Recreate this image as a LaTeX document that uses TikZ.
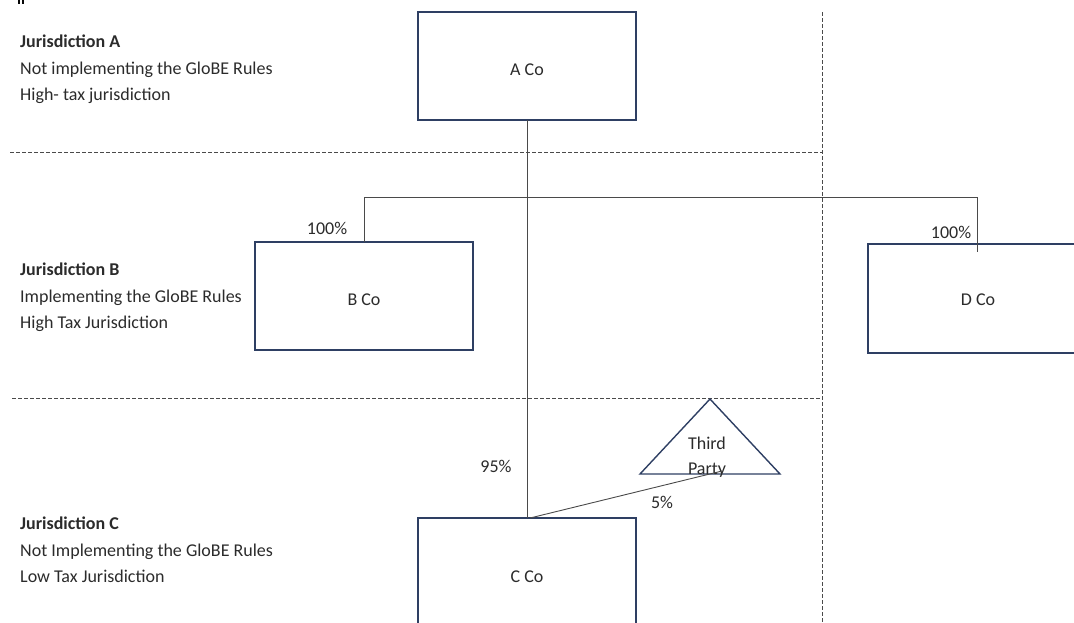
\documentclass[tikz,border=0pt]{standalone}
\usepackage{fontspec}
\setmainfont{Carlito}
\definecolor{boxc}{HTML}{2E3F63}
\definecolor{linec}{HTML}{4A4A4A}
\definecolor{txtc}{HTML}{2B2B2B}
\begin{document}
\begin{tikzpicture}[x=1pt,y=-1pt,
  ent/.style={draw=boxc,line width=1.4pt,fill=none},
  conn/.style={draw=linec,line width=0.9pt},
  sep/.style={draw=linec,dash pattern=on 4pt off 2pt,line width=0.7pt},
  lab/.style={text=txtc,font=\fontsize{18}{20}\selectfont,inner sep=0pt},
  jur/.style={text=txtc,font=\fontsize{18}{20}\selectfont,anchor=base west,inner sep=0pt}]
\useasboundingbox (0,0) rectangle (1074,622);
% separators
\draw[sep] (10,152) -- (822,152);
\draw[sep] (12,398) -- (822,398);
\draw[sep] (822,12) -- (822,622);
% entities
\draw[ent] (418,12) rectangle (636,120);
\node[lab] (aco) at (527,70) {A Co};
\draw[ent] (255,242) rectangle (473,350);
\node[lab] (bco) at (364,300) {B Co};
\draw[ent] (868,244) rectangle (1090,353);
\node[lab] (dco) at (978,300) {D Co};
\draw[ent] (418,518) rectangle (636,630);
\node[lab] (cco) at (527,577) {C Co};
\draw[ent] (710,399) -- (780,474) -- (640,474) -- cycle;
\node[lab,anchor=base] (tp1) at (707,449) {Third};
\node[lab,anchor=base] (tp2) at (707,474) {Party};
% coordinates
\coordinate (abot) at (527,120);
\coordinate (ctop) at (527,518);
\coordinate (hl) at (364,197);
\coordinate (hr) at (977,197);
\coordinate (btop) at (364,242);
\coordinate (dend) at (977,252);
\coordinate (ctop2) at (530,518);
\coordinate (tpb) at (722,471);
% connectors
\draw[conn] (abot) -- (ctop);
\draw[conn] (btop) -- (hl) -- (hr) -- (dend);
\draw[conn] (ctop2) -- (tpb);
% labels
\node[lab] (p1) at (327,228) {100\%};
\node[lab] (p2) at (951,232) {100\%};
\node[lab] (p3) at (496,466) {95\%};
\node[lab] (p4) at (662,502) {5\%};
% jurisdictions
\node[jur] (ja1) at (20,47) {\textbf{Jurisdiction A}};
\node[jur] (ja2) at (20,74) {Not implementing the GloBE Rules};
\node[jur] (ja3) at (20,100) {High- tax jurisdiction};
\node[jur] (jb1) at (20,275) {\textbf{Jurisdiction B}};
\node[jur] (jb2) at (20,302) {Implementing the GloBE Rules};
\node[jur] (jb3) at (20,328) {High Tax Jurisdiction};
\node[jur] (jc1) at (20,529) {\textbf{Jurisdiction C}};
\node[jur] (jc2) at (20,556) {Not Implementing the GloBE Rules};
\node[jur] (jc3) at (20,582) {Low Tax Jurisdiction};
\node[text=black,font=\bfseries\fontsize{15}{18}\selectfont,anchor=base west,inner sep=0pt] (mark) at (17,4) {II};
\end{tikzpicture}
\end{document}
